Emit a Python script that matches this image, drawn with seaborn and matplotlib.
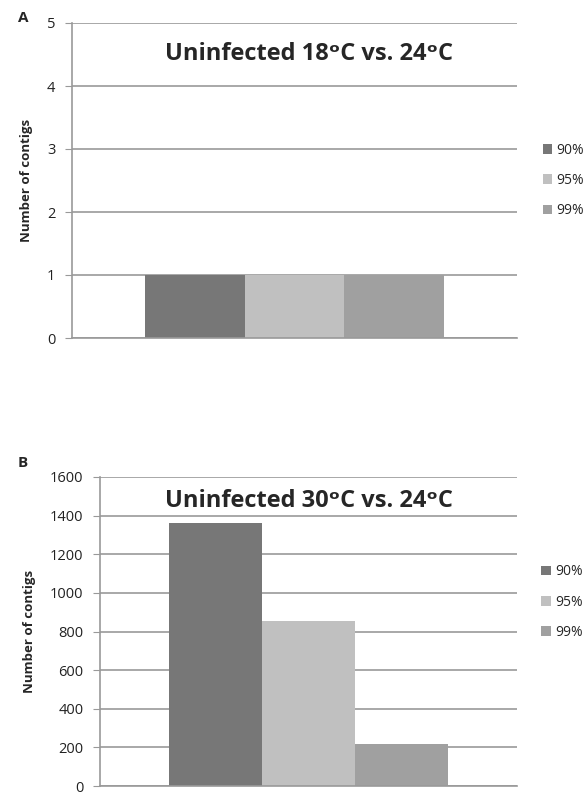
import pandas as pd
import numpy as np
import seaborn as sns
import matplotlib.pyplot as plt

# values
identity = ['90%', '95%', '99%']
counts_18 = [1, 1, 1]
counts_30 = [1364, 855, 215]
colors = ['#777777', '#c0c0c0', '#a0a0a0']

titles = ['Uninfected 18ᵒC vs. 24ᵒC',
          'Uninfected 30ᵒC vs. 24ᵒC']
letters = ['A', 'B']
ylims = [5, 1600]
ysteps = [1, 200]

sns.set_style('white')
plt.rcParams['font.family'] = ['Open Sans', 'DejaVu Sans']

fig = plt.figure(figsize=(5.87, 7.94), dpi=100)
ax_a = fig.add_axes([72 / 587, 1 - 338 / 794, 445 / 587, 315 / 794])
ax_b = fig.add_axes([100 / 587, 1 - 786 / 794, 417 / 587, 309 / 794])

leg_y = [0.5, 0.595]
title_xy = [(0.533, 0.94), (0.5, 0.96)]

for i, (ax, counts) in enumerate(zip([ax_a, ax_b], [counts_18, counts_30])):
    df = pd.DataFrame({'group': [''] * 3, 'identity': identity, 'count': counts})
    sns.barplot(data=df, x='group', y='count', hue='identity', palette=colors,
                width=0.67, saturation=1, linewidth=0, ax=ax, legend=True)
    ax.set_ylim(0, ylims[i])
    ax.set_yticks(np.arange(0, ylims[i] + 1, ysteps[i]))
    ax.yaxis.grid(True, color='#999999', linewidth=1.2)
    ax.set_axisbelow(True)
    for s in ['top', 'right']:
        ax.spines[s].set_visible(False)
    for s in ['left', 'bottom']:
        ax.spines[s].set_color('#999999')
        ax.spines[s].set_linewidth(1.2)
    ax.tick_params(axis='y', left=True, length=5, color='#999999', labelsize=10.5,
                   labelcolor='#222222', pad=7)
    ax.tick_params(axis='x', bottom=False, labelbottom=False)
    ax.set_xlabel('')
    ax.set_ylabel('Number of contigs', fontsize=9.5, fontweight='bold', labelpad=10)
    ax.text(title_xy[i][0], title_xy[i][1], titles[i], transform=ax.transAxes,
            ha='center', va='top', fontsize=17, fontweight='bold')
    ax.legend(loc='center left', bbox_to_anchor=(1.045, leg_y[i]), frameon=False,
              fontsize=10, handlelength=0.7, handleheight=0.7,
              handletextpad=0.3, labelspacing=1.1, borderaxespad=0)
    fig.text(18 / 587, 1 - (18 if i == 0 else 463) / 794, letters[i],
             fontsize=11, fontweight='bold', ha='left', va='center')

fig.savefig('out.png', dpi=100)
